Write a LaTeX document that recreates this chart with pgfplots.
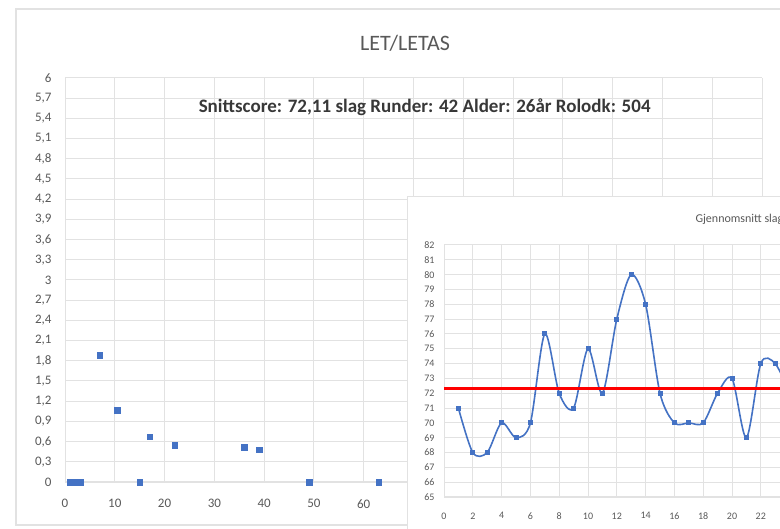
\documentclass[border=0pt]{standalone}
\usepackage{fontspec}
\setmainfont{Carlito}
\usepackage{pgfplots}
\pgfplotsset{compat=1.18}
\definecolor{xlblue}{HTML}{4472C4}
\definecolor{xlgrid}{HTML}{E2E2E2}
\definecolor{xltext}{HTML}{595959}

\begin{document}
\begin{tikzpicture}[x=1pt,y=1pt]
\useasboundingbox (0,0) rectangle (780,529);
\clip (0,0) rectangle (780,529);
\fill[white] (0,0) rectangle (780,529);
\draw[xlgrid, line width=1.2pt] (16,4) rectangle (800,520);
\node[font=\fontsize{22}{26}\selectfont, text=xltext] at (405,486) {LET/LETAS};

% main chart (its right lower part lies under the inset)
\begin{axis}[
  at={(65pt,47pt)}, anchor=south west, scale only axis,
  width=697pt, height=404pt,
  xmin=0, xmax=140, ymin=0, ymax=6,
  xtick={0,10,...,140},
  xticklabels={0,10,20,30,40,50,60,,,,,,,,},
  ytick={0,0.3,0.6,0.9,1.2,1.5,1.8,2.1,2.4,2.7,3,3.3,3.6,3.9,4.2,4.5,4.8,5.1,5.4,5.7,6},
  grid=major, grid style={xlgrid, line width=1pt},
  axis x line*=bottom, axis y line*=left,
  x axis line style={xlgrid, line width=1.2pt, -},
  y axis line style={draw=none},
  major tick length=0pt,
  tick label style={font=\fontsize{13}{15}\selectfont, text=xltext},
  /pgf/number format/assume math mode=true,
  yticklabel style={/pgf/number format/use comma, /pgf/number format/fixed,
    /pgf/number format/precision=1, xshift=-10pt},
  xticklabel style={yshift=-14pt},
]
\addplot[only marks, mark=square*, mark size=2.8pt, color=xlblue] coordinates {
  (1,0) (2,0) (3,0) (7,1.88) (10.5,1.07) (15,0) (17,0.67) (22,0.55)
  (36,0.52) (39,0.48) (49,0) (63,0)};
\node[font=\bfseries\fontsize{19}{22}\selectfont, text=black!78] at (rel axis cs:0.516,0.928)
  {Snittscore: 72,11 slag Runder: 42 Alder: 26år Rolodk: 504};
\end{axis}

% inset chart
\fill[white] (407,-5) rectangle (900,332);
\draw[xlgrid, line width=1pt] (407,-5) rectangle (900,332);
\node[anchor=west, font=\fontsize{12}{14}\selectfont, text=xltext] at (692,310) {Gjennomsnitt slag per runde};
\begin{axis}[
  at={(444pt,32pt)}, anchor=south west, scale only axis,
  width=633.6pt, height=252pt,
  xmin=0, xmax=44, ymin=65, ymax=82,
  xtick={0,2,...,22}, ytick distance=1,
  grid=major, grid style={xlgrid, line width=1pt},
  axis x line*=bottom, axis y line*=left,
  x axis line style={xlgrid, line width=1.2pt, -},
  y axis line style={xlgrid, line width=1pt, -},
  major tick length=0pt,
  tick label style={font=\fontsize{10}{11}\selectfont, text=xltext},
  /pgf/number format/assume math mode=true,
  yticklabel style={xshift=-6pt},
  xticklabel style={yshift=-12pt},
]
\addplot[xlblue, line width=1.6pt, smooth, tension=0.5, mark=square*, mark size=1.7pt,
  mark options={solid, fill=xlblue}] coordinates {
  (1,71) (2,68) (3,68) (4,70) (5,69) (6,70) (7,76) (8,72) (9,71) (10,75) (11,72) (12,77)
  (13,80) (14,78) (15,72) (16,70) (17,70) (18,70) (19,72) (20,73) (21,69) (22,74) (23,74) (24,72)};
\addplot[red, line width=2.6pt] coordinates {(0,72.3) (44,72.3)};
\end{axis}
\end{tikzpicture}
\end{document}
